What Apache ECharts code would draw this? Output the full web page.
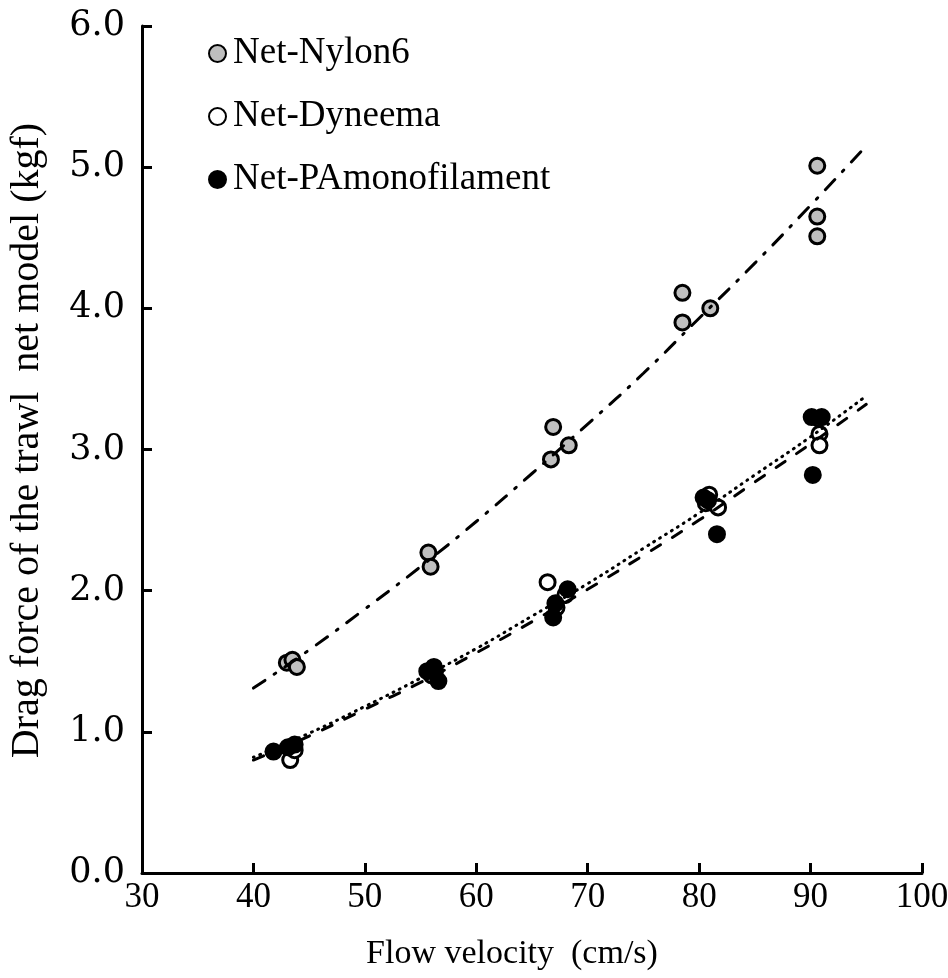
<!DOCTYPE html>
<html>
<head>
<meta charset="utf-8">
<script src="https://cdn.jsdelivr.net/npm/echarts@6/dist/echarts.min.js"></script>
<style>
  html, body { margin: 0; padding: 0; background: #fff; }
  #chart { width: 948px; height: 978px; }
</style>
</head>
<body>
<div id="chart"></div>
<script>
// Measured drag force (kgf) against flow velocity (cm/s) for three net materials
const nylonVelocity = [43.0, 43.5, 43.9, 55.7, 55.9, 66.9, 66.7, 68.3, 78.5, 78.5, 81.0, 90.6, 90.6, 90.6];
const nylonForce    = [1.49, 1.51, 1.46, 2.27, 2.17, 3.16, 2.93, 3.03, 4.11, 3.90, 4.00, 5.01, 4.65, 4.51];

const dyneemaVelocity = [43.3, 43.7, 56.0, 56.3, 66.4, 67.2, 68.0, 80.6, 80.9, 81.7, 90.7, 90.8, 90.8];
const dyneemaForce    = [0.80, 0.87, 1.40, 1.43, 2.06, 1.88, 1.97, 2.62, 2.68, 2.59, 3.22, 3.11, 3.03];

const paVelocity = [41.8, 43.1, 43.7, 55.6, 56.2, 56.6, 68.2, 67.1, 66.9, 80.4, 80.8, 81.6, 90.1, 91.0, 90.2];
const paForce    = [0.86, 0.89, 0.91, 1.43, 1.46, 1.36, 2.01, 1.91, 1.81, 2.66, 2.64, 2.40, 3.23, 3.23, 2.82];

// Trend curves, sampled along each fitted line
const trendVelocity = [40, 45, 50, 55, 60, 65, 70, 75, 80, 85, 90, 95];
const nylonTrend    = [1.31, 1.58, 1.87, 2.17, 2.49, 2.83, 3.18, 3.54, 3.93, 4.32, 4.73, 5.15];
const dyneemaTrend  = [0.82, 0.99, 1.18, 1.38, 1.59, 1.82, 2.05, 2.30, 2.55, 2.82, 3.09, 3.38];
const paTrend       = [0.80, 0.97, 1.16, 1.35, 1.56, 1.78, 2.01, 2.25, 2.50, 2.77, 3.04, 3.32];

const xTicks = [30, 40, 50, 60, 70, 80, 90, 100];
const yTicks = [0, 1, 2, 3, 4, 5, 6];

const zip = (xs, ys) => xs.map((x, i) => [x, ys[i]]);
const SERIF = '"Liberation Serif", "Times New Roman", serif';
const WIDE_SERIF = '"DejaVu Serif", "Liberation Serif", serif';

const markerSeries = (name, xs, ys, fill) => ({
  name: name,
  type: 'scatter',
  data: zip(xs, ys),
  symbol: 'circle',
  symbolSize: 15,
  itemStyle: { color: fill, borderColor: '#000', borderWidth: 3, opacity: 1 },
  emphasis: { disabled: true },
  z: 2
});

const trendSeries = (ys, dash) => ({
  type: 'line',
  data: zip(trendVelocity, ys),
  smooth: true,
  showSymbol: false,
  symbol: 'none',
  lineStyle: { color: '#000', width: 3, type: dash, cap: 'round' },
  emphasis: { disabled: true },
  silent: true,
  z: 5
});

const chart = echarts.init(document.getElementById('chart'), null, { renderer: 'canvas' });
chart.setOption({
  animation: false,
  backgroundColor: '#fff',
  textStyle: { fontFamily: SERIF, color: '#000' },
  grid: { left: 142, right: 26, top: 26, bottom: 105, containLabel: false, outerBoundsMode: 'none' },
  legend: {
    orient: 'vertical',
    left: 203,
    top: 30,
    itemGap: 26,
    itemWidth: 17,
    itemHeight: 17,
    icon: 'circle',
    data: ['Net-Nylon6', 'Net-Dyneema', 'Net-PAmonofilament'],
    textStyle: { fontFamily: SERIF, fontSize: 37, lineHeight: 36, color: '#000', padding: [0, 0, 0, 2] }
  },
  xAxis: {
    type: 'value',
    min: xTicks[0],
    max: xTicks[xTicks.length - 1],
    interval: 10,
    name: 'Flow velocity  (cm/s)',
    nameLocation: 'middle',
    nameGap: 64,
    nameTextStyle: { fontFamily: SERIF, fontSize: 34, color: '#000', padding: [0, 40, 0, 0] },
    axisLine: { show: true, onZero: false, lineStyle: { color: '#000', width: 3 } },
    axisTick: { show: true, inside: true, length: 10, lineStyle: { color: '#000', width: 3 } },
    axisLabel: { fontFamily: SERIF, fontSize: 35, color: '#000', margin: 7 },
    splitLine: { show: false }
  },
  yAxis: {
    type: 'value',
    min: yTicks[0],
    max: yTicks[yTicks.length - 1],
    interval: 1,
    name: 'Drag force of the trawl  net model (kgf)',
    nameLocation: 'middle',
    nameGap: 95,
    nameTextStyle: { fontFamily: SERIF, fontSize: 40, color: '#000', padding: [0, 0, 0, 18] },
    axisLine: { show: true, onZero: false, lineStyle: { color: '#000', width: 3 } },
    axisTick: { show: true, inside: true, length: 10, lineStyle: { color: '#000', width: 3 } },
    axisLabel: { fontFamily: WIDE_SERIF, fontSize: 35, color: '#000', margin: 17, formatter: v => v.toFixed(1) },
    splitLine: { show: false }
  },
  series: [
    markerSeries('Net-Nylon6', nylonVelocity, nylonForce, '#bfbfbf'),
    markerSeries('Net-Dyneema', dyneemaVelocity, dyneemaForce, '#ffffff'),
    markerSeries('Net-PAmonofilament', paVelocity, paForce, '#000000'),
    trendSeries(nylonTrend, [14, 11, 2, 11]),
    trendSeries(dyneemaTrend, [1, 6]),
    trendSeries(paTrend, [11, 14])
  ]
});
</script>
</body>
</html>
